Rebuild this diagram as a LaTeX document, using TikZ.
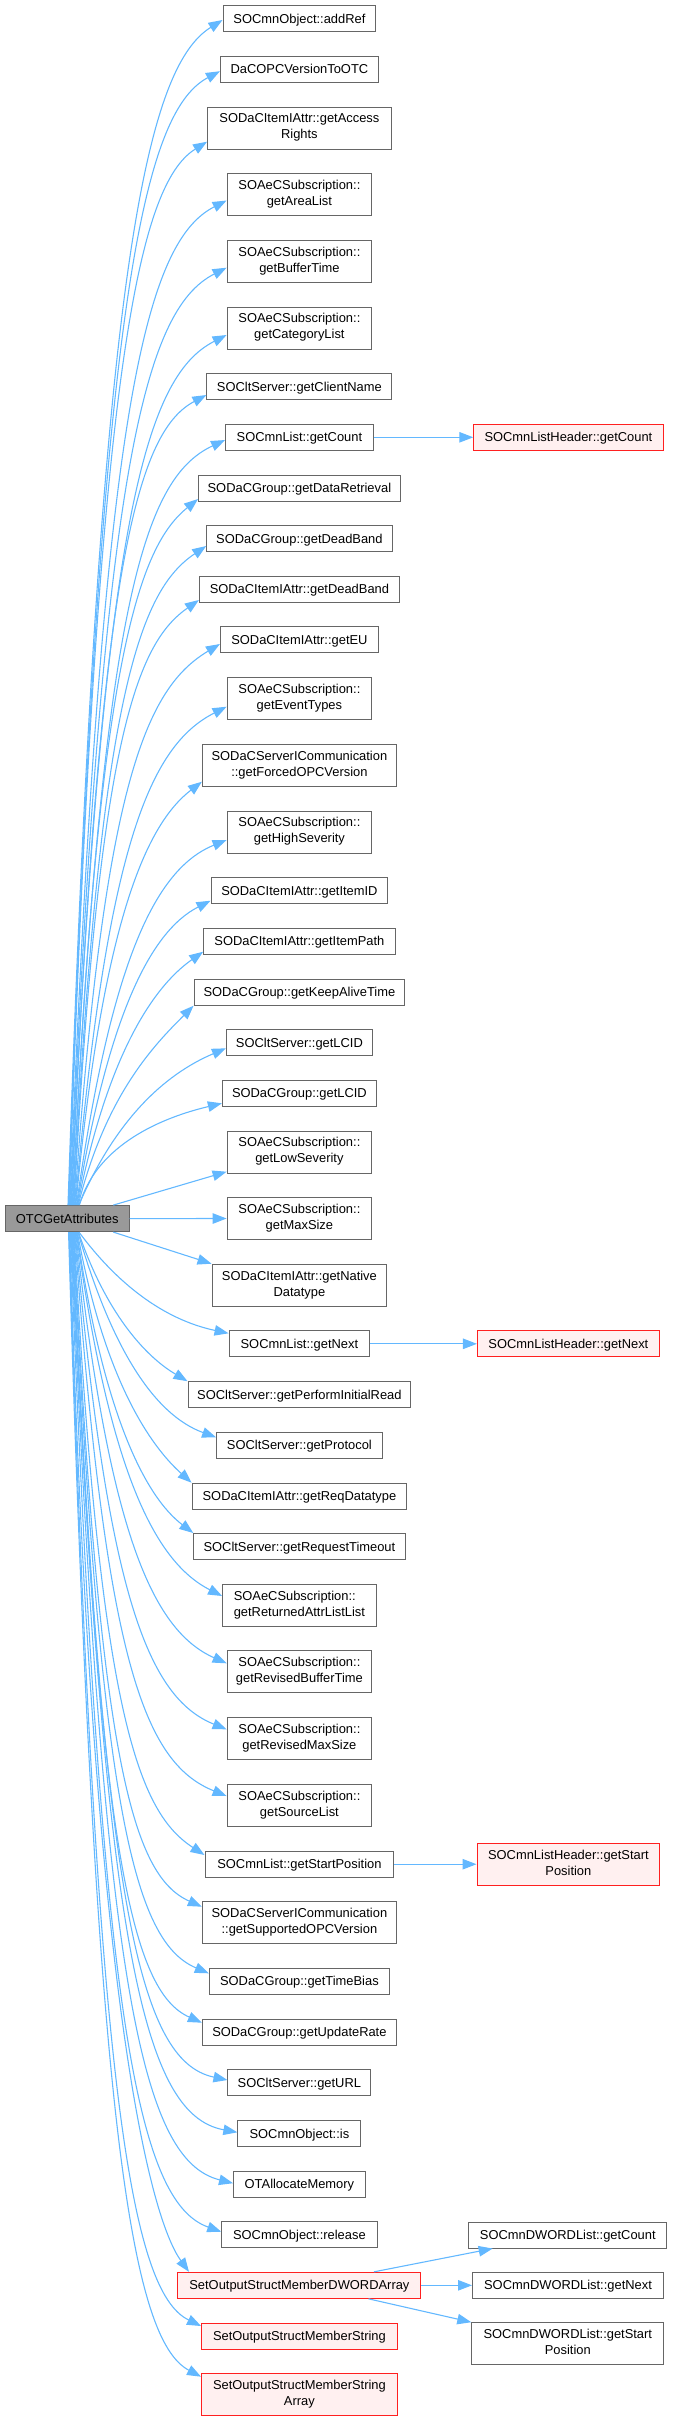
\documentclass[tikz,border=0pt]{standalone}
\usepackage{fontspec}
\setmainfont{Liberation Sans}
\usetikzlibrary{arrows.meta}
\definecolor{edgeblue}{HTML}{63B8FF}
\definecolor{boxgray}{HTML}{666666}
\definecolor{rootfill}{HTML}{999999}
\definecolor{redfill}{HTML}{FFF0F0}
\definecolor{redline}{HTML}{FF2020}
\newcommand{\lnstrut}{\rule[-3.4pt]{0pt}{16pt}}
\begin{document}
\begin{tikzpicture}[x=1pt,y=1pt,
  box/.style={draw=boxgray, line width=1pt, fill=white, inner sep=0pt, align=center,
    font=\fontsize{12.9}{16}\selectfont, execute at begin node=\lnstrut,
    execute at end node=\lnstrut, minimum height=26pt},
  tall/.style={minimum height=42pt},
  redbox/.style={box, draw=redline, fill=redfill},
  rootbox/.style={box, fill=rootfill},
  edge/.style={draw=edgeblue, line width=1.1pt, -{Triangle[length=14pt,width=10.5pt]}}]
\useasboundingbox (0,0) rectangle (673,-2421);

% root
\node[rootbox, minimum width=124pt] (otc) at (67.2,-1218.6) {OTCGetAttributes};

% callees
\node[box, minimum width=152.8pt] (n1) at (299.4,-18.5) {SOCmnObject::addRef};
\node[box, minimum width=157.9pt] (n2) at (299.4,-69.2) {DaCOPCVersionToOTC};
\node[box, tall, minimum width=183.7pt] (n3) at (299.4,-128) {SODaCItemIAttr::getAccess\\Rights};
\node[box, tall, minimum width=144.6pt] (n4) at (299.4,-194.5) {SOAeCSubscription::\\getAreaList};
\node[box, tall, minimum width=144.6pt] (n5) at (299.4,-261.2) {SOAeCSubscription::\\getBufferTime};
\node[box, tall, minimum width=144.6pt] (n6) at (299.4,-328) {SOAeCSubscription::\\getCategoryList};
\node[box, minimum width=185pt] (n7) at (299.4,-386.7) {SOCltServer::getClientName};
\node[box, minimum width=147.6pt] (n8) at (299.4,-437.3) {SOCmnList::getCount};
\node[box, minimum width=201.7pt] (n9) at (299.4,-488) {SODaCGroup::getDataRetrieval};
\node[box, minimum width=185.4pt] (n10) at (299.4,-538.5) {SODaCGroup::getDeadBand};
\node[box, minimum width=200pt] (n11) at (299.4,-589.3) {SODaCItemIAttr::getDeadBand};
\node[box, minimum width=157.9pt] (n12) at (299.4,-639.8) {SODaCItemIAttr::getEU};
\node[box, tall, minimum width=144.6pt] (n13) at (299.4,-698.8) {SOAeCSubscription::\\getEventTypes};
\node[box, tall, minimum width=194pt] (n14) at (299.4,-765.2) {SODaCServerICommunication\\::getForcedOPCVersion};
\node[box, tall, minimum width=144.6pt] (n15) at (299.4,-832) {SOAeCSubscription::\\getHighSeverity};
\node[box, minimum width=176.8pt] (n16) at (299.4,-890.7) {SODaCItemIAttr::getItemID};
\node[box, minimum width=191.4pt] (n17) at (299.4,-941.3) {SODaCItemIAttr::getItemPath};
\node[box, minimum width=210.7pt] (n18) at (299.4,-992.2) {SODaCGroup::getKeepAliveTime};
\node[box, minimum width=145.9pt] (n19) at (299.4,-1042.7) {SOCltServer::getLCID};
\node[box, minimum width=154pt] (n20) at (299.4,-1093.2) {SODaCGroup::getLCID};
\node[box, tall, minimum width=144.6pt] (n21) at (299.4,-1152) {SOAeCSubscription::\\getLowSeverity};
\node[box, tall, minimum width=144.6pt] (n22) at (299.4,-1218.5) {SOAeCSubscription::\\getMaxSize};
\node[box, tall, minimum width=174.7pt] (n23) at (299.4,-1285.2) {SODaCItemIAttr::getNative\\Datatype};
\node[box, minimum width=140.7pt] (n24) at (299.4,-1343.8) {SOCmnList::getNext};
\node[box, minimum width=222.8pt] (n25) at (299.4,-1394.7) {SOCltServer::getPerformInitialRead};
\node[box, minimum width=165.6pt] (n26) at (299.4,-1445.3) {SOCltServer::getProtocol};
\node[box, minimum width=214.6pt] (n27) at (299.4,-1496.2) {SODaCItemIAttr::getReqDatatype};
\node[box, minimum width=211.2pt] (n28) at (299.4,-1546.5) {SOCltServer::getRequestTimeout};
\node[box, tall, align=left, minimum width=153.6pt] (n29) at (299.4,-1605.3) {SOAeCSubscription::\\getReturnedAttrListList};
\node[box, tall, minimum width=144.6pt] (n30) at (299.4,-1671.8) {SOAeCSubscription::\\getRevisedBufferTime};
\node[box, tall, minimum width=144.6pt] (n31) at (299.4,-1738.5) {SOAeCSubscription::\\getRevisedMaxSize};
\node[box, tall, minimum width=144.6pt] (n32) at (299.4,-1805.2) {SOAeCSubscription::\\getSourceList};
\node[box, minimum width=188.8pt] (n33) at (299.4,-1864.2) {SOCmnList::getStartPosition};
\node[box, tall, minimum width=194pt] (n34) at (299.4,-1922.7) {SODaCServerICommunication\\::getSupportedOPCVersion};
\node[box, minimum width=180.2pt] (n35) at (299.4,-1981.3) {SODaCGroup::getTimeBias};
\node[box, minimum width=194pt] (n36) at (299.4,-2032.2) {SODaCGroup::getUpdateRate};
\node[box, minimum width=142.9pt] (n37) at (299.4,-2082.8) {SOCltServer::getURL};
\node[box, minimum width=123.1pt] (n38) at (299.4,-2133.5) {SOCmnObject::is};
\node[box, minimum width=131.7pt] (n39) at (299.4,-2184.2) {OTAllocateMemory};
\node[box, minimum width=155.3pt] (n40) at (299.4,-2234.7) {SOCmnObject::release};
\node[redbox, minimum width=243pt] (n41) at (299.4,-2285.3) {SetOutputStructMemberDWORDArray};
\node[redbox, minimum width=195.7pt] (n42) at (299.4,-2336.2) {SetOutputStructMemberString};
\node[redbox, tall, minimum width=195.7pt] (n43) at (299.4,-2394.7) {SetOutputStructMemberString\\Array};

% second level
\node[redbox, minimum width=189.3pt] (r8) at (568.4,-437.3) {SOCmnListHeader::getCount};
\node[redbox, minimum width=182pt] (r24) at (568.4,-1343.8) {SOCmnListHeader::getNext};
\node[redbox, tall, minimum width=182.8pt] (r33) at (568.4,-1864.2) {SOCmnListHeader::getStart\\Position};
\node[box, minimum width=198pt] (d1) at (567.8,-2235) {SOCmnDWORDList::getCount};
\node[box, minimum width=191pt] (d2) at (568,-2285.3) {SOCmnDWORDList::getNext};
\node[box, tall, minimum width=192pt] (d3) at (567.8,-2343.7) {SOCmnDWORDList::getStart\\Position};

% edges upward
\draw[edge] ([xshift=0.8pt]otc.north) .. controls (98.9,-280.7) and (143.9,-69.1) .. ([yshift=-1.5pt]n1.west);
\draw[edge] ([xshift=1.4pt]otc.north) .. controls (98.9,-320.6) and (139.75,-113.8) .. ([yshift=-2pt]n2.west);
\draw[edge] ([xshift=2.0pt]otc.north) .. controls (96.8,-375.6) and (136.95,-185.5) .. ([yshift=-13.7pt]n3.west);
\draw[edge] ([xshift=2.6pt]otc.north) .. controls (101.2,-421.5) and (142.8,-243.2) .. ([yshift=-6pt]n4.west);
\draw[edge] ([xshift=3.2pt]otc.north) .. controls (101.6,-473.9) and (143.1,-310.2) .. ([yshift=-6.5pt]n5.west);
\draw[edge] ([xshift=3.8pt]otc.north) .. controls (102.1,-526.4) and (143.4,-377.4) .. ([yshift=-7pt]n6.west);
\draw[edge] ([xshift=4.4pt]otc.north) .. controls (98.6,-573.2) and (135,-432.9) .. ([yshift=-8.3pt]n7.west);
\draw[edge] ([xshift=5.0pt]otc.north) .. controls (102.8,-608.3) and (142,-478.8) .. ([yshift=-2.7pt]n8.west);
\draw[edge] ([xshift=5.6pt]otc.north) .. controls (97.8,-654.3) and (139.65,-546.3) .. ([yshift=-11pt]n9.west);
\draw[edge] ([xshift=6.2pt]otc.north) .. controls (100,-691) and (140.1,-590.6) .. ([yshift=-7.5pt]n10.west);
\draw[edge] ([xshift=6.8pt]otc.north) .. controls (99,-733.1) and (137.6,-643) .. ([yshift=-10.7pt]n11.west);
\draw[edge] ([xshift=7.4pt]otc.north) .. controls (104.2,-779.6) and (146.65,-688) .. ([yshift=-4.2pt]n12.west);
\draw[edge] ([xshift=8.0pt]otc.north) .. controls (107,-844.7) and (149.8,-745.8) .. ([yshift=-7.9pt]n13.west);
\draw[edge] ([xshift=8.6pt]otc.north) .. controls (103.3,-916.7) and (147.2,-823.7) .. ([yshift=-16.5pt]n14.west);
\draw[edge] ([xshift=9.2pt]otc.north) .. controls (110,-968.3) and (152.9,-869.8) .. ([yshift=-8pt]n15.west);
\draw[edge] ([xshift=9.8pt]otc.north) .. controls (107.7,-1018) and (149.6,-931.7) .. ([yshift=-10pt]n16.west);
\draw[edge] ([xshift=10.4pt]otc.north) .. controls (107.1,-1056.6) and (152.2,-987.5) .. ([yshift=-10.4pt]n17.west);
\draw[edge] ([xshift=11.0pt]otc.north) .. controls (105.9,-1094.3) and (154.45,-1044.8) .. (n18.south west);
\draw[edge] ([xshift=11.6pt]otc.north) .. controls (114.7,-1121.7) and (162.65,-1075.2) .. ([yshift=-5.6pt]n19.west);
\draw[edge] ([xshift=12.2pt]otc.north) .. controls (95,-1150) and (152,-1120) .. ([yshift=-10.1pt]n20.west);
\draw[edge] ([xshift=46.1pt]otc.north) -- ([yshift=-19.7pt]n21.west);
\draw[edge] (otc.east) -- (n22.west);
\draw[edge] ([xshift=46.1pt]otc.south) -- (n23.north west);

% edges downward
\draw[edge] ([xshift=11.8pt]otc.south) .. controls (116.4,-1282.7) and (162.75,-1319.3) .. ([yshift=10.5pt]n24.west);
\draw[edge] ([xshift=11.25pt]otc.south) .. controls (105.15,-1311) and (144,-1355.6) .. (n25.north west);
\draw[edge] ([xshift=10.7pt]otc.south) .. controls (111,-1346.8) and (153.5,-1414.5) .. ([yshift=8pt]n26.west);
\draw[edge] ([xshift=10.15pt]otc.south) .. controls (104.15,-1378.7) and (149.6,-1445.1) .. (n27.north west);
\draw[edge] ([xshift=9.6pt]otc.south) .. controls (103.6,-1416.8) and (146.1,-1497.3) .. (n28.north west);
\draw[edge] ([xshift=9.05pt]otc.south) .. controls (108.85,-1467.8) and (153.3,-1561) .. ([yshift=9.3pt]n29.west);
\draw[edge] ([xshift=8.5pt]otc.south) .. controls (108.4,-1527.7) and (150.8,-1629.6) .. ([yshift=8.5pt]n30.west);
\draw[edge] ([xshift=7.95pt]otc.south) .. controls (107.05,-1591.3) and (146.7,-1697) .. ([yshift=9.2pt]n31.west);
\draw[edge] ([xshift=7.4pt]otc.south) .. controls (105.5,-1660.5) and (143.5,-1762.4) .. ([yshift=9.2pt]n32.west);
\draw[edge] ([xshift=6.85pt]otc.south) .. controls (100.15,-1717.9) and (138.8,-1812.3) .. ([yshift=9.2pt]n33.west);
\draw[edge] ([xshift=6.3pt]otc.south) .. controls (99.2,-1758.3) and (131.5,-1875.4) .. ([yshift=16pt]n34.west);
\draw[edge] ([xshift=5.75pt]otc.south) .. controls (100.15,-1810.2) and (133.7,-1941.4) .. ([yshift=8pt]n35.west);
\draw[edge] ([xshift=5.2pt]otc.south) .. controls (98.3,-1848.7) and (130.9,-1991.1) .. ([yshift=9.5pt]n36.west);
\draw[edge] ([xshift=4.65pt]otc.south) .. controls (102.95,-1893.4) and (136.05,-2060.6) .. ([yshift=2.8pt]n37.west);
\draw[edge] ([xshift=4.1pt]otc.south) .. controls (104.5,-1934.2) and (139.45,-2114.2) .. ([yshift=1.2pt]n38.west);
\draw[edge] ([xshift=3.55pt]otc.south) .. controls (103.25,-1973.9) and (138.55,-2159.6) .. ([yshift=1pt]n39.west);
\draw[edge] ([xshift=3.0pt]otc.south) .. controls (100.4,-2011.8) and (135.85,-2201.4) .. ([yshift=3pt]n40.west);
\draw[edge] ([xshift=2.45pt]otc.south) .. controls (93.55,-2043) and (155,-2225) .. ([xshift=-110.4pt]n41.north);
\draw[edge] ([xshift=1.9pt]otc.south) .. controls (95.5,-2085.3) and (129.85,-2291.3) .. ([yshift=10.2pt]n42.west);
\draw[edge] ([xshift=1.35pt]otc.south) .. controls (95.05,-2124.9) and (130.85,-2339.4) .. ([yshift=18pt]n43.west);

% second level edges
\draw[edge] (n8) -- (r8);
\draw[edge] (n24) -- (r24);
\draw[edge] (n33) -- (r33);
\draw[edge] ([xshift=74.6pt]n41.north) -- ([xshift=-75.1pt]d1.south);
\draw[edge] (n41.east) -- (d2.west);
\draw[edge] ([xshift=69.1pt]n41.south) -- (d3.north west);
\end{tikzpicture}
\end{document}
